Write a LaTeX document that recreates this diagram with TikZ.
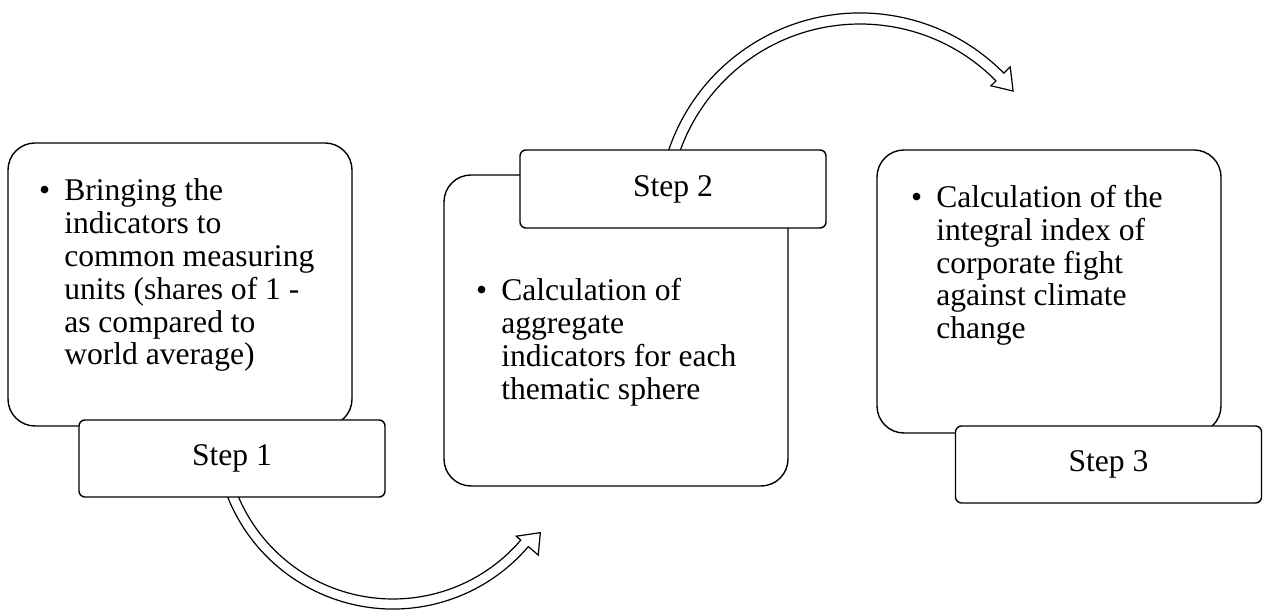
\documentclass[tikz,border=0pt]{standalone}
\usepackage{fontspec}
\setmainfont{Liberation Serif}
\usepackage{tikz}
\usetikzlibrary{calc}

\begin{document}
\begin{tikzpicture}[
  x=0.5pt, y=0.5pt,
  font=\fontsize{15.8}{16.4}\selectfont,
  bigbox/.style={
    draw, line width=0.7pt, rounded corners=13.5pt, fill=white,
    minimum width=172pt, inner sep=0pt
  },
  stepbox/.style={
    draw, line width=0.7pt, rounded corners=3pt, fill=white,
    minimum width=153pt, minimum height=38.5pt, inner sep=0pt
  },
  bullettext/.style={anchor=base west, inner sep=0pt, align=left},
  curvearrow/.style={draw, line width=0.6pt, fill=white, line join=miter}
]
\useasboundingbox (0,0) rectangle (1268,610);

% Arc centres of the two curved arrows
\coordinate (c1) at (393,179);
\coordinate (c2) at (860,395);

% Curved arrow below: Step 1 -> Step 2
\draw[curvearrow] ($(c1)+(198:178)$) arc[start angle=198, end angle=319.5, radius=178]
  -- ($(c1)+(319.5:191)$) -- ($(c1)+(325.4:179)$) -- ($(c1)+(319.5:162)$)
  -- ($(c1)+(319.5:168)$) arc[start angle=319.5, end angle=198, radius=168] -- cycle;

% Curved arrow above: Step 2 -> Step 3
\draw[curvearrow] ($(c2)+(165:202)$) arc[start angle=165, end angle=44.6, radius=202]
  -- ($(c2)+(44.6:211)$) -- ($(c2)+(39:197)$) -- ($(c2)+(44.6:184)$)
  -- ($(c2)+(44.6:191)$) arc[start angle=44.6, end angle=165, radius=191] -- cycle;

% Content boxes
\node[bigbox, minimum height=141.5pt] (box1) at (180,325.5) {};
\node[bigbox, minimum height=155.5pt] (box2) at (616,279.5) {};
\node[bigbox, minimum height=141.5pt] (box3) at (1049,318.5) {};

% Step labels (drawn over the content boxes)
\node[stepbox] (step1) at (232,151.5) {Step 1};
\node[stepbox, minimum height=39pt] (step2) at (673,421) {Step 2};
\node[stepbox] (step3) at (1108.5,145.5) {Step 3};

% Bullet texts
\node[bullettext] (text1) at ($(box1.north west)+(31.5,-58.7)$) {%
  \begin{tabular}[t]{@{}l@{\hspace{7pt}}l@{}}
  \textbullet & Bringing the\\
   & indicators to\\
   & common measuring\\
   & units (shares of 1 -\\
   & as compared to\\
   & world average)
  \end{tabular}};
\node[bullettext] (text2) at ($(box2.north west)+(32.5,-126.7)$) {%
  \begin{tabular}[t]{@{}l@{\hspace{7pt}}l@{}}
  \textbullet & Calculation of\\
   & aggregate\\
   & indicators for each\\
   & thematic sphere
  \end{tabular}};
\node[bullettext] (text3) at ($(box3.north west)+(34.5,-58.3)$) {%
  \begin{tabular}[t]{@{}l@{\hspace{7pt}}l@{}}
  \textbullet & Calculation of the\\
   & integral index of\\
   & corporate fight\\
   & against climate\\
   & change
  \end{tabular}};

\end{tikzpicture}
\end{document}
